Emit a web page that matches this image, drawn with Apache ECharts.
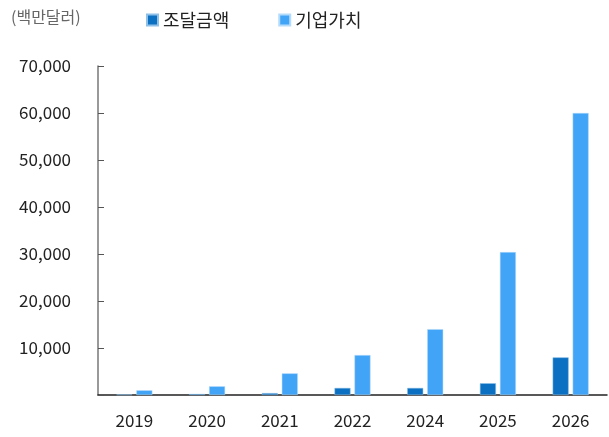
<!DOCTYPE html>
<html><head><meta charset="utf-8">
<script src="https://cdn.jsdelivr.net/npm/echarts@6/dist/echarts.min.js"></script>
<style>html,body{margin:0;padding:0;background:#fff}#c{width:609px;height:437px}</style>
</head><body><div id="c"></div>
<script>
const categories = ['2019','2020','2021','2022','2024','2025','2026'];
const fundingValues = [100, 200, 400, 1500, 1500, 2500, 8000];
const enterpriseValues = [1000, 1850, 4600, 8500, 14000, 30400, 60000];
const yTicks = [0, 10000, 20000, 30000, 40000, 50000, 60000, 70000];
const font = '"Noto Sans CJK KR", "Noto Sans", sans-serif';
const chart = echarts.init(document.getElementById('c'));
chart.setOption({
  animation: false,
  textStyle: {fontFamily: font},
  graphic: [{type:'text', left: 11, top: 9, style:{text:'(백만달러)', font:'16px ' + font, fill:'#666'}}],
  legend: {
    top: 6, left: 141, itemWidth: 11, itemHeight: 11, itemGap: 49, icon: 'rect',
    textStyle: {fontSize: 18, color: '#222', fontFamily: font},
    data: ['조달금액','기업가치']
  },
  grid: {left: 98, right: 2, top: 66, bottom: 42},
  xAxis: {
    type: 'category', data: categories,
    axisLine: {lineStyle: {color: '#222', width: 1.5}},
    axisTick: {inside: true, length: 7, lineStyle: {color: '#777', width: 1.5}},
    axisLabel: {fontSize: 17, color: '#222', margin: 17, fontFamily: font}
  },
  yAxis: {
    type: 'value', min: yTicks[0], max: yTicks[yTicks.length-1], interval: 10000,
    axisLine: {show: true, lineStyle: {color: '#777', width: 1.5}},
    axisTick: {show: true, inside: true, length: 6, lineStyle: {color: '#555'}},
    splitLine: {show: false},
    axisLabel: {fontSize: 17, color: '#222', margin: 27, fontFamily: font,
      formatter: v => v === 0 ? '' : v.toLocaleString('en-US')}
  },
  series: [
    {name: '조달금액', type: 'bar', data: fundingValues, barWidth: '22%', barGap: '25%',
     itemStyle: {color: '#0B70C2', borderColor: '#8fc0e8', borderWidth: 0.5}},
    {name: '기업가치', type: 'bar', data: enterpriseValues, barWidth: '22%',
     itemStyle: {color: '#41A4F6', borderColor: '#b5dbfb', borderWidth: 0.5}}
  ]
});
</script></body></html>
